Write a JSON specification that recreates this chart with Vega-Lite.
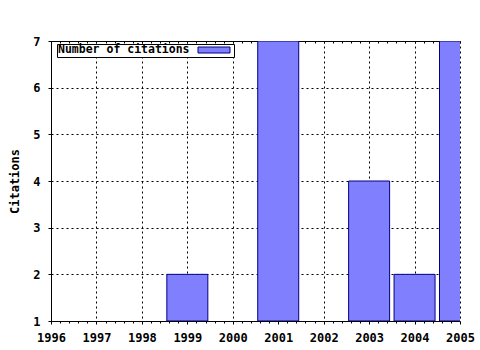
{
  "$schema": "https://vega.github.io/schema/vega-lite/v6.json",
  "width": 409,
  "height": 280,
  "autosize": "none",
  "padding": {"left": 51, "top": 41, "right": 20, "bottom": 29},
  "background": "white",
  "config": {
    "view": {"stroke": null},
    "font": "DejaVu Sans Mono",
    "axis": {
      "labelFont": "DejaVu Sans Mono",
      "labelFontWeight": "bold",
      "labelFontSize": 12,
      "labelColor": "black",
      "titleFont": "DejaVu Sans Mono",
      "titleFontWeight": "bold",
      "titleFontSize": 12,
      "titleColor": "black",
      "domainColor": "black",
      "tickColor": "black",
      "gridColor": "black",
      "gridDash": [2, 3],
      "gridWidth": 1,
      "gridOpacity": 1
    }
  },
  "data": {
    "values": [
      {"year": 1999, "citations": 2},
      {"year": 2001, "citations": 7},
      {"year": 2003, "citations": 4},
      {"year": 2004, "citations": 2},
      {"year": 2005, "citations": 7}
    ]
  },
  "layer": [
    {
      "mark": {"type": "bar", "width": 41, "stroke": "#000080", "strokeWidth": 1, "clip": true, "opacity": 1},
      "encoding": {
        "x": {
          "field": "year",
          "type": "quantitative",
          "scale": {"domain": [1996, 2005], "nice": false, "zero": false, "padding": 0},
          "axis": {
            "orient": "bottom",
            "title": null,
            "values": [1996, 1997, 1998, 1999, 2000, 2001, 2002, 2003, 2004, 2005],
            "format": "d",
            "labelOverlap": false,
            "labelFlush": false,
            "grid": true,
            "tickSize": 3,
            "labelPadding": 8
          }
        },
        "y": {
          "field": "citations",
          "type": "quantitative",
          "scale": {"domain": [1, 7], "nice": false, "zero": false},
          "axis": {
            "title": "Citations",
            "values": [1, 2, 3, 4, 5, 6, 7],
            "format": "d",
            "grid": true,
            "tickSize": 3,
            "labelPadding": 8,
            "titlePadding": 11
          }
        },
        "y2": {"datum": 1},
        "color": {
          "datum": "Number of citations",
          "scale": {"range": ["#8080ff"]},
          "legend": {
            "orient": "none",
            "legendX": 6,
            "legendY": 3,
            "direction": "horizontal",
            "title": "Number of citations",
            "titleOrient": "left",
            "titleFont": "DejaVu Sans Mono",
            "titleFontWeight": "bold",
            "titleFontSize": 11.5,
            "titleColor": "black",
            "titlePadding": 6,
            "titleBaseline": "middle",
            "labelExpr": "''",
            "labelOffset": 14,
            "symbolOffset": 13,
            "symbolType": "M-5.333,-1H5.333V1H-5.333Z",
            "symbolSize": 36,
            "symbolStrokeColor": "#000080",
            "symbolStrokeWidth": 1,
            "symbolFillColor": "#8080ff",
            "symbolOpacity": 1,
            "strokeColor": "black",
            "fillColor": "white",
            "padding": 1
          }
        }
      }
    },
    {
      "mark": {"type": "rule", "opacity": 0},
      "encoding": {
        "x": {
          "field": "year",
          "type": "quantitative",
          "axis": {
            "orient": "top",
            "title": null,
            "labels": false,
            "grid": false,
            "values": [1996, 1996.2, 1996.4, 1996.6, 1996.8, 1997, 1997.2, 1997.4, 1997.6, 1997.8, 1998, 1998.2, 1998.4, 1998.6, 1998.8, 1999, 1999.2, 1999.4, 1999.6, 1999.8, 2000, 2000.2, 2000.4, 2000.6, 2000.8, 2001, 2001.2, 2001.4, 2001.6, 2001.8, 2002, 2002.2, 2002.4, 2002.6, 2002.8, 2003, 2003.2, 2003.4, 2003.6, 2003.8, 2004, 2004.2, 2004.4, 2004.6, 2004.8, 2005],
            "tickSize": -2
          }
        }
      }
    },
    {
      "mark": {"type": "rule", "opacity": 0},
      "encoding": {
        "x": {
          "field": "year",
          "type": "quantitative",
          "axis": {
            "orient": "bottom",
            "title": null,
            "labels": false,
            "grid": false,
            "domain": false,
            "values": [1996.2, 1996.4, 1996.6, 1996.8, 1997.2, 1997.4, 1997.6, 1997.8, 1998.2, 1998.4, 1998.6, 1998.8, 1999.2, 1999.4, 1999.6, 1999.8, 2000.2, 2000.4, 2000.6, 2000.8, 2001.2, 2001.4, 2001.6, 2001.8, 2002.2, 2002.4, 2002.6, 2002.8, 2003.2, 2003.4, 2003.6, 2003.8, 2004.2, 2004.4, 2004.6, 2004.8],
            "tickSize": 2
          }
        }
      }
    }
  ],
  "resolve": {"axis": {"x": "independent"}}
}
